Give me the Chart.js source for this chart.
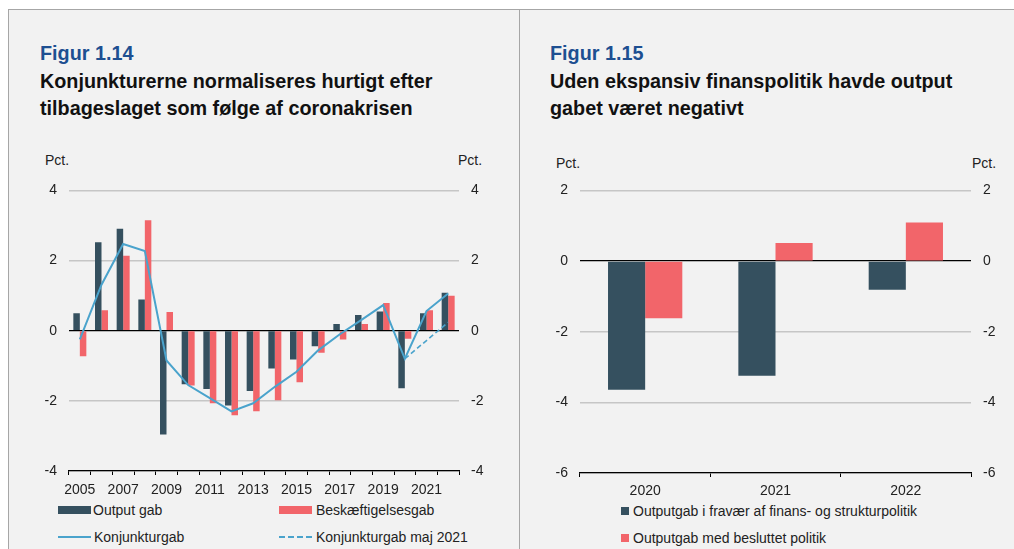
<!DOCTYPE html>
<html>
<head>
<meta charset="utf-8">
<script src="https://cdn.jsdelivr.net/npm/chart.js@4/dist/chart.umd.min.js"></script>
<style>
    body { margin: 0; background: #ffffff; font-family: 'Liberation Sans', Arial, sans-serif; }
    #page { position: relative; width: 1014px; height: 549px; overflow: hidden; }
    #panel { position: absolute; left: 8px; top: 9px; width: 1010px; height: 545px; background: #f2f2f2;
        border-left: 1px solid #a6a6a6; border-top: 1px solid #a6a6a6; }
    #divider { position: absolute; left: 519px; top: 9px; width: 1px; height: 545px; background: #a6a6a6; }
    .title { position: absolute; font-size: 19.8px; font-weight: bold; line-height: 27.5px; color: #111; white-space: nowrap; }
    .title .fig { color: #1d4f91; }
    .unit { position: absolute; font-size: 14px; color: #222; }
    .chartbox { position: absolute; width: 480px; height: 330px; }
    .legend { position: absolute; font-size: 14px; color: #222; }
    .legend .item { position: absolute; white-space: nowrap; height: 18px; line-height: 18px; }
    .legend .sym { position: absolute; top: 0; }
    .legend .txt { position: absolute; top: 0; }
</style>
</head>
<body>
<div id="page">
    <div id="panel"></div>
    <div id="divider"></div>

    <div class="title" style="left:40px; top:40px;">
        <div class="fig">Figur 1.14</div>
        <div>Konjunkturerne normaliseres hurtigt efter</div>
        <div>tilbageslaget som følge af coronakrisen</div>
    </div>
    <div class="title" style="left:550px; top:40px;">
        <div class="fig">Figur 1.15</div>
        <div>Uden ekspansiv finanspolitik havde output</div>
        <div>gabet været negativt</div>
    </div>

    <div class="unit" style="left:45px; top:152px;">Pct.</div>
    <div class="unit" style="left:458px; top:152px;">Pct.</div>
    <div class="unit" style="left:556px; top:155px;">Pct.</div>
    <div class="unit" style="left:972px; top:155px;">Pct.</div>

    <div class="chartbox" style="left:20px; top:170px;"><canvas id="gab-chart" width="480" height="330"></canvas></div>
    <div class="chartbox" style="left:530px; top:170px;"><canvas id="politik-chart" width="480" height="330"></canvas></div>

    <div class="legend" id="gab-legend"></div>
    <div class="legend" id="politik-legend"></div>
</div>

<script>
// Figur 1.14
var years = ['2005','2006','2007','2008','2009','2010','2011','2012','2013','2014','2015','2016','2017','2018','2019','2020','2021','2022'];
var outputGab = [0.5, 2.52, 2.91, 0.89, -2.96, -1.53, -1.66, -2.13, -1.72, -1.08, -0.82, -0.44, 0.19, 0.45, 0.55, -1.64, 0.5, 1.08];
var beskaeftigelsesGab = [-0.73, 0.58, 2.14, 3.15, 0.53, -1.56, -2.07, -2.41, -2.3, -1.98, -1.47, -0.63, -0.25, 0.19, 0.79, -0.23, 0.58, 1.0];
var konjunkturGab = [-0.25, 1.31, 2.47, 2.27, -0.85, -1.55, -1.92, -2.3, -2.07, -1.6, -1.17, -0.56, -0.1, 0.31, 0.73, -0.8, 0.56, 1.06];
var konjunkturGabMaj = [null, null, null, null, null, null, null, null, null, null, null, null, null, null, null, -0.8, -0.28, 0.24];
var gabTicks = [-4, -2, 0, 2, 4];

// Figur 1.15
var politikYears = ['2020', '2021', '2022'];
var fravaerGab = [-3.64, -3.25, -0.81];
var besluttetGab = [-1.62, 0.51, 1.09];
var politikTicks = [-6, -4, -2, 0, 2];

var darkBlue = '#35505f';
var red = '#f2656a';
var lineBlue = '#4aa3cc';

Chart.defaults.font.family = "'Liberation Sans', Arial, sans-serif";
Chart.defaults.font.size = 14;
Chart.defaults.color = '#222';

function yAxis(pos, ticks, width, showGrid) {
    return {
        position: pos,
        min: ticks[0],
        max: ticks[ticks.length - 1],
        afterFit: function (scale) { scale.width = width; },
        border: { display: false },
        grid: {
            display: showGrid,
            drawTicks: false,
            color: function (ctx) { return ctx.tick && ctx.tick.value === 0 ? '#000000' : '#c6c6c6'; },
            lineWidth: function (ctx) { return ctx.tick && ctx.tick.value === 0 ? 1.3 : 1.5; }
        },
        ticks: { stepSize: 2, padding: 12, color: '#222' }
    };
}

function xAxis(height, pad, every) {
    return {
        afterFit: function (scale) { scale.height = height; },
        border: { display: true, color: '#000', width: 1.2 },
        grid: { display: true, offset: true, drawOnChartArea: false, drawTicks: true, tickLength: 4, color: '#000' },
        ticks: {
            autoSkip: false, maxRotation: 0, padding: pad, color: '#222',
            callback: function (val, index) { return index % every === 0 ? this.getLabelForValue(val) : ''; }
        }
    };
}

var GabChart = new Chart(document.getElementById('gab-chart'), {
    type: 'bar',
    data: {
        labels: years,
        datasets: [{
            label: 'Output gab',
            data: outputGab,
            backgroundColor: darkBlue,
            order: 2
        }, {
            label: 'Beskæftigelsesgab',
            data: beskaeftigelsesGab,
            backgroundColor: red,
            order: 2
        }, {
            type: 'line',
            label: 'Konjunkturgab',
            data: konjunkturGab,
            borderColor: lineBlue,
            borderWidth: 2,
            pointRadius: 0,
            tension: 0,
            order: 1
        }, {
            type: 'line',
            label: 'Konjunkturgab maj 2021',
            data: konjunkturGabMaj,
            borderColor: lineBlue,
            borderWidth: 1.6,
            borderDash: [5, 3],
            pointRadius: 0,
            tension: 0,
            order: 0
        }]
    },
    options: {
        responsive: false,
        animation: false,
        maintainAspectRatio: false,
        layout: { padding: { top: 18, left: 0, right: 0, bottom: 0 } },
        datasets: { bar: { categoryPercentage: 0.6, barPercentage: 1 } },
        plugins: { legend: { display: false }, tooltip: { enabled: false } },
        scales: {
            x: xAxis(29, 7, 2),
            y: yAxis('left', gabTicks, 49, true),
            y2: yAxis('right', gabTicks, 41, false)
        }
    }
});

var PolitikChart = new Chart(document.getElementById('politik-chart'), {
    type: 'bar',
    data: {
        labels: politikYears,
        datasets: [{
            label: 'Outputgab i fravær af finans- og strukturpolitik',
            data: fravaerGab,
            backgroundColor: darkBlue
        }, {
            label: 'Outputgab med besluttet politik',
            data: besluttetGab,
            backgroundColor: red
        }]
    },
    options: {
        responsive: false,
        animation: false,
        maintainAspectRatio: false,
        layout: { padding: { top: 18, left: 0, right: 0, bottom: 0 } },
        datasets: { bar: { categoryPercentage: 0.57, barPercentage: 1 } },
        plugins: { legend: { display: false }, tooltip: { enabled: false } },
        scales: {
            x: xAxis(27, 6, 1),
            y: yAxis('left', politikTicks, 50, true),
            y2: yAxis('right', politikTicks, 39, false)
        }
    }
});

// html legends, symbols taken from the datasets
function symbolHtml(ds, kind) {
    if (kind === 'box') {
        return '<div class="sym" style="left:0;top:5px;width:33px;height:8px;background:' + ds.backgroundColor + '"></div>';
    }
    if (kind === 'square') {
        return '<div class="sym" style="left:0;top:5px;width:8px;height:8px;background:' + ds.backgroundColor + '"></div>';
    }
    var style = ds.borderDash ? 'dashed' : 'solid';
    return '<div class="sym" style="left:0;top:8px;width:33px;height:0;border-top:2px ' + style + ' ' + ds.borderColor + '"></div>';
}

function BuildLegend(el, chart, places) {
    var html = '';
    chart.data.datasets.forEach(function (ds, i) {
        var p = places[i];
        html += '<div class="item" style="left:' + p.x + 'px;top:' + p.y + 'px">' + symbolHtml(ds, p.kind) +
            '<div class="txt" style="left:' + p.tx + 'px">' + ds.label + '</div></div>';
    });
    el.innerHTML = html;
}

BuildLegend(document.getElementById('gab-legend'), GabChart, [
    { x: 58, y: 501, tx: 35, kind: 'box' },
    { x: 279, y: 501, tx: 37, kind: 'box' },
    { x: 58, y: 528, tx: 36, kind: 'line' },
    { x: 279, y: 528, tx: 37, kind: 'line' }
]);

BuildLegend(document.getElementById('politik-legend'), PolitikChart, [
    { x: 621, y: 502, tx: 12, kind: 'square' },
    { x: 621, y: 529, tx: 12, kind: 'square' }
]);
</script>
</body>
</html>
